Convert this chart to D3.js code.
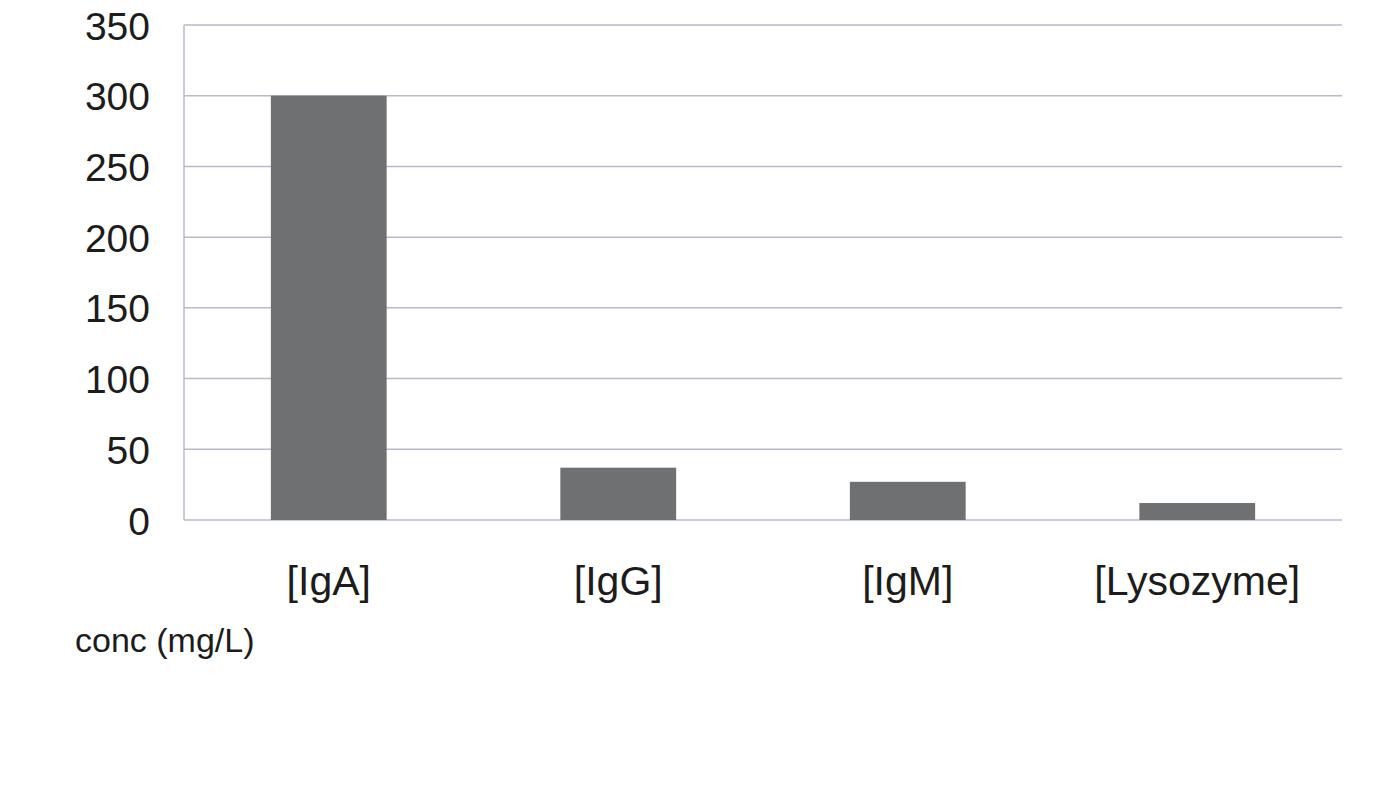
<!DOCTYPE html>
<html>
<head>
<meta charset="utf-8">
<script src="https://cdn.jsdelivr.net/npm/d3@7"></script>
<style>
  body { margin: 0; background: #fff; }
  text { font-family: "Liberation Sans", Arial, sans-serif; fill: #1c1c1c; }
</style>
</head>
<body>
<svg width="1374" height="800"></svg>
<script>
const categories = ['[IgA]', '[IgG]', '[IgM]', '[Lysozyme]'];
const values = [300, 37, 27, 12];
const yTicks = [0, 50, 100, 150, 200, 250, 300, 350];
const yAxisLabel = 'conc (mg/L)';

const svg = d3.select('svg');
const margin = { top: 25, right: 32, bottom: 280, left: 184 };
const width = +svg.attr('width');
const height = +svg.attr('height');
const innerWidth = width - margin.left - margin.right;
const innerHeight = height - margin.top - margin.bottom;

const g = svg.append('g')
  .attr('transform', `translate(${margin.left}, ${margin.top})`);

// scales
const xScale = d3.scaleBand()
  .domain(categories)
  .range([0, innerWidth])
  .paddingInner(0.6)
  .paddingOuter(0.3);

const yScale = d3.scaleLinear()
  .domain([0, 350])
  .range([innerHeight, 0]);

// gridlines
g.append('g')
  .selectAll('line')
  .data(yTicks)
  .join('line')
    .attr('x1', 0)
    .attr('x2', innerWidth)
    .attr('y1', d => yScale(d))
    .attr('y2', d => yScale(d))
    .attr('stroke', '#b9b9cb')
    .attr('stroke-width', 1.5);

// left axis line
g.append('line')
  .attr('x1', 0).attr('x2', 0)
  .attr('y1', 0).attr('y2', innerHeight)
  .attr('stroke', '#b9b9cb')
  .attr('stroke-width', 1.5);

// y tick labels
const yAxis = d3.axisLeft(yScale).tickValues(yTicks).tickSize(0).tickPadding(34);
const yAxisG = g.append('g').call(yAxis);
yAxisG.select('.domain').remove();
yAxisG.selectAll('text')
  .attr('font-size', 39)
  .attr('dy', '0.36em');

// bars
g.selectAll('rect')
  .data(values)
  .join('rect')
    .attr('x', (d, i) => xScale(categories[i]))
    .attr('y', d => yScale(d))
    .attr('width', xScale.bandwidth())
    .attr('height', d => innerHeight - yScale(d))
    .attr('fill', '#6e7071');

// x labels
const xAxis = d3.axisBottom(xScale).tickSize(0).tickPadding(46);
const xAxisG = g.append('g').call(xAxis)
  .attr('transform', `translate(0, ${innerHeight})`);
xAxisG.select('.domain').remove();
xAxisG.selectAll('text')
  .attr('font-size', 41)
  .attr('dy', '0.7em');

// axis label
svg.append('text')
  .attr('x', 75)
  .attr('y', 652)
  .attr('font-size', 34)
  .text(yAxisLabel);
</script>
</body>
</html>
